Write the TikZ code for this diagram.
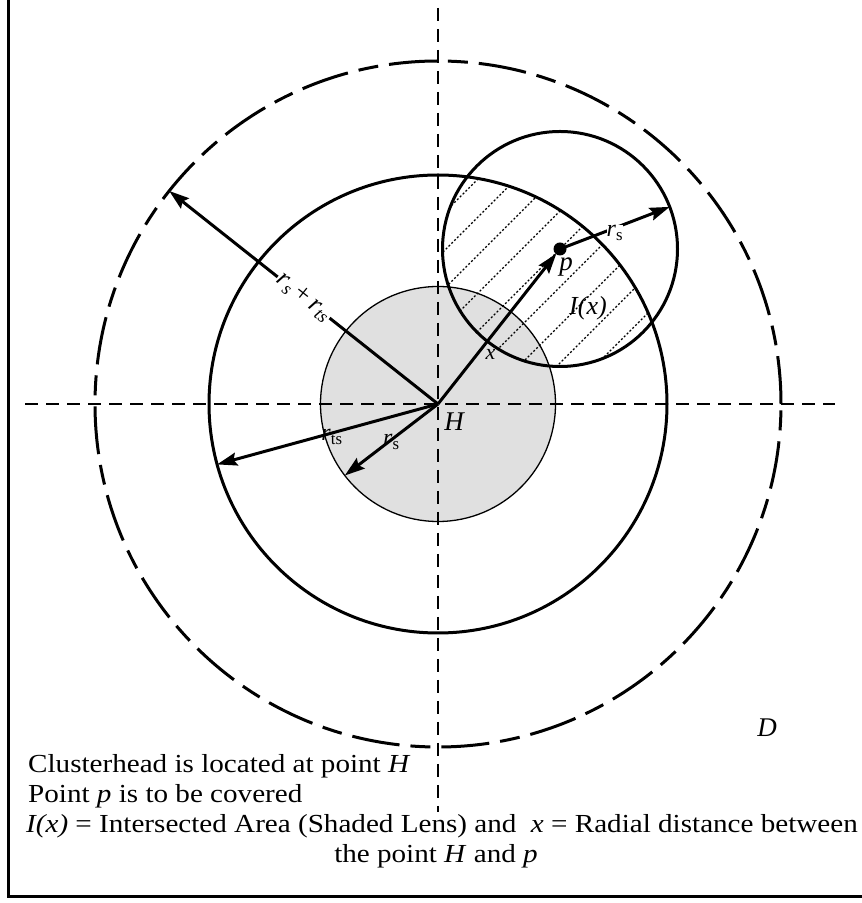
\documentclass[tikz,border=0pt]{standalone}
\usepackage{fontspec}
\setmainfont{Liberation Serif}
\newfontfamily\notefont[FakeStretch=1.12]{Liberation Serif}
\usetikzlibrary{arrows.meta}

\begin{document}
\begin{tikzpicture}[x=1pt, y=1pt,
		radius arrow/.style={line width=3pt, -{Stealth[length=20pt, width=13pt, inset=3pt]}},
		axis line/.style={line width=2.8pt, dash pattern=on 13pt off 8pt},
		label text/.style={font=\fontsize{27}{30}\selectfont\itshape, inner sep=1pt},
		radius text/.style={font=\fontsize{24}{26}\selectfont, inner sep=1pt},
		note text/.style={font=\notefont\fontsize{26}{30}\selectfont, inner sep=0pt}]
	\useasboundingbox (0, 0) rectangle (862, 903);
	
	% frame, its right side lies off the page
	\draw[line width=3pt] (8, 6) rectangle (880, 904);
	
	\coordinate (H) at (438, 499);   % clusterhead
	\coordinate (p) at (560, 654);   % point to be covered
	
	% sensing disc round H
	\filldraw[fill=black!12, line width=1.3pt] (H) circle [radius=117.5];
	
	% shaded lens
	\begin{scope}
		\clip (p) circle [radius=117.5];
		\clip (H) circle [radius=229];
		\foreach \c in {-228, -190, ..., 228}
			\draw[dash pattern=on 2pt off 2pt, line width=1.2pt] ([shift={(-250, \c-250)}]p) -- ([shift={(250, \c+250)}]p);
	\end{scope}
	
	\draw[line width=3pt] (H) circle [radius=229];    % r_ts
	\draw[line width=3pt] (p) circle [radius=117.5];  % r_s round p
	\draw[line width=3pt, dash pattern=on 48pt off 11pt on 20pt off 11pt] (H) circle [radius=343];
	
	\draw[axis line] (25, 499) -- (835, 499);   % x-axis
	\draw[axis line] (438, 895) -- (438, 91);   % y-axis
	
	% radii
	\draw[radius arrow] (H) -- ([shift={(141.6:343)}]H)
		node[radius text, font=\fontsize{26}{28}\selectfont, midway, sloped, fill=white] {\textit{r}\textsubscript{\textit{s}}\,+\,\textit{r}\textsubscript{\textit{ts}}};
	\draw[radius arrow] (H) -- ([shift={(195.3:229)}]H)
		node[radius text, pos=0.48, yshift=-4pt] {\textit{r}\textsubscript{ts}};
	\draw[radius arrow] (H) -- ([shift={(217.5:117.5)}]H)
		node[radius text, pos=0.5, yshift=-2pt] {\textit{r}\textsubscript{s}};
	\draw[radius arrow, shorten >=6pt] (H) -- (p)
		node[radius text, font=\fontsize{22}{24}\selectfont\itshape, pos=0.37, anchor=north west] {x};
	\draw[radius arrow] (p) -- ([shift={(21:117.5)}]p)
		node[radius text, midway, yshift=-5pt, fill=white, inner sep=0pt] {\textit{r}\textsubscript{s}};
	\fill (p) circle [radius=6.5];
	
	\node[label text] (Hlabel) at ([shift={(16, -18)}]H) {H};
	\node[label text] (plabel) at ([shift={(6, -18)}]p) {p};
	\node[label text, font=\fontsize{26}{30}\selectfont\itshape] (Ilabel) at ([shift={(28, -59)}]p) {I(x)};
	\node[label text] (Dlabel) at (767, 175) {D};
	
	% notes
	\node[note text, anchor=base west] (note1) at (28, 130) {Clusterhead is located at point \textit{H}};
	\node[note text, anchor=base west] (note2) at (28, 100) {Point \textit{p} is to be covered};
	\node[note text, anchor=base west] (note3) at (26, 70) {\textit{I(x)} = Intersected Area (Shaded Lens) and~ \textit{x} = Radial distance between};
	\node[note text, anchor=base] (note4) at (436, 40) {the point \textit{H} and \textit{p}};
\end{tikzpicture}
\end{document}
